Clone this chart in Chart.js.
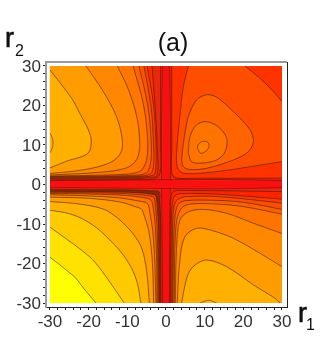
<!DOCTYPE html>
<html>
<head>
<meta charset="utf-8">
<style>
  html, body { margin: 0; padding: 0; background: #fff; }
  #wrap { position: relative; width: 332px; height: 338px; }
</style>
<script src="https://cdn.jsdelivr.net/npm/chart.js@4"></script>
</head>
<body>
<div id="wrap"><canvas id="chart" width="332" height="338"></canvas></div>
<script>
const tickValues = [-30, -28, -26, -24, -22, -20, -18, -16, -14, -12, -10, -8, -6, -4, -2, 0, 2, 4, 6, 8, 10, 12, 14, 16, 18, 20, 22, 24, 26, 28, 30];

// level contours, [r1, r2], yellow side first in each quadrant
const lowerLeft = [
  [[-30,-18.4],[-27,-20.7],[-25,-22.3],[-23.5,-23.5],[-22.3,-25],[-20.7,-27],[-18.1,-30]],
  [[-30,-10.8],[-26,-13.6],[-22,-16.5],[-19,-19],[-16.5,-22],[-13.6,-26],[-10.8,-30]],
  [[-30,-6.5],[-25,-7.4],[-21,-9],[-17,-11.7],[-14.3,-14.3],[-11.7,-17],[-9,-21],[-7.4,-25],[-6.5,-30]],
  [[-30,-4.3],[-22,-5],[-16,-6.3],[-12.5,-8.5],[-10.4,-10.4],[-8.5,-12.5],[-6.3,-16],[-5,-22],[-4.3,-30]],
  [[-30,-3.2],[-20,-3.5],[-12,-4.4],[-8,-5.6],[-6.3,-6.3],[-5.6,-8],[-4.4,-12],[-3.5,-20],[-3.2,-30]],
  [[-30,-2.6],[-20,-2.9],[-12,-3.4],[-7,-4.2],[-4.8,-4.8],[-4.2,-7],[-3.4,-12],[-2.9,-20],[-2.6,-30]],
  [[-30,-2.3],[-20,-2.4],[-10,-2.8],[-6,-3.3],[-3.9,-3.9],[-3.3,-6],[-2.8,-10],[-2.4,-20],[-2.3,-30]],
  [[-30,-2.05],[-20,-2.1],[-10,-2.35],[-5,-2.8],[-3.2,-3.2],[-2.8,-5],[-2.35,-10],[-2.1,-20],[-2.05,-30]],
  [[-30,-1.8],[-10,-1.95],[-5,-2.3],[-2.7,-2.7],[-2.3,-5],[-1.95,-10],[-1.8,-30]],
  [[-30,-1.3],[-10,-1.35],[-4,-1.6],[-1.8,-1.8],[-1.6,-4],[-1.35,-10],[-1.3,-30]]
];
const lowerLeftColors = ['#ffff00', '#ffe200', '#ffca00', '#ffb200', '#ff9c00', '#ff8600', '#ff7000', '#ff5800', '#ff4000', '#8e2608'];

const upperLeft = [
  [[-30,29],[-24.4,21.8],[-22.3,18],[-19.5,12.2],[-20.1,8],[-25.7,5.9],[-30,4.2]],
  [[-20.7,30],[-16.2,23.5],[-12.8,17.2],[-11.3,11.3],[-11.7,8],[-14.5,5.5],[-21.4,3.7],[-30,2.8]],
  [[-12.6,30],[-9.7,24],[-7.4,16.4],[-6.8,9.7],[-7.6,6.3],[-10.2,4.2],[-17,3.1],[-30,2.4]],
  [[-8.5,30],[-5.9,20.6],[-4.8,12.2],[-5,6.3],[-6.8,3.3],[-12.8,2.5],[-30,2.15]],
  [[-7,30],[-4.7,20],[-3.9,12],[-3.9,6],[-5,3],[-9,2.3],[-30,2]],
  [[-5.7,30],[-3.9,20],[-3.2,10],[-3.2,5],[-4,2.7],[-8,2.1],[-30,1.85]],
  [[-4.9,30],[-3.2,20],[-2.6,10],[-2.6,4.5],[-3.2,2.4],[-8,1.9],[-30,1.6]],
  [[-3.6,30],[-2.7,18],[-2.2,8],[-2.1,3.5],[-2.6,2],[-8,1.6],[-30,1.35]],
  [[-1.4,30],[-1.4,10],[-1.5,3],[-3,1.4],[-8,1.2],[-30,1.1]]
];
const upperLeftColors = ['#ffb000', '#ff9c00', '#ff8800', '#ff7600', '#ff6400', '#ff5200', '#ff4000', '#ff2c00', '#e8280c'];
const upperLeftPeak = [[-30,13],[-29.5,12],[-29.2,10.5],[-29.5,9],[-30,8]];
const upperLeftDark = [[-30,1.9],[-12,2],[-6,2],[-6,1.4],[-12,1.2],[-30,1.15]];

const lowerRight = [
  [[4.05,-30],[4.6,-27],[5.8,-22.5],[7.5,-20.4],[10.5,-19.1],[15.7,-20.8],[22.6,-25.4],[28.2,-28.8],[29.5,-30]],
  [[2.9,-30],[3.6,-19.1],[4.9,-13.2],[7.9,-11.1],[11.4,-11.5],[17.4,-13.6],[24.3,-17.4],[30,-20.8]],
  [[2.4,-30],[2.75,-15.8],[3.6,-9],[5.8,-6.9],[9.7,-6.3],[15.7,-7.3],[22.6,-9.8],[30,-12.4]],
  [[2.1,-30],[2.3,-16],[2.8,-9],[4,-6],[6,-5],[12,-4.9],[20,-5.6],[30,-7.5]],
  [[1.8,-30],[2,-14],[2.4,-7.5],[3.2,-5],[5,-4.1],[12,-4],[20,-4.5],[30,-6.3]],
  [[1.6,-30],[1.7,-12],[2,-6],[2.8,-4],[5,-3.1],[14,-3.1],[30,-4.7]],
  [[1.3,-30],[1.4,-10],[1.7,-4.5],[2.3,-2.9],[4,-2.3],[14,-2.5],[30,-3.7]],
  [[1.1,-30],[1.1,-8],[1.3,-3],[2,-1.7],[5,-1.5],[30,-1.8]]
];
const lowerRightColors = ['#ffb000', '#ff9c00', '#ff8800', '#ff7400', '#ff6000', '#ff4c00', '#ff3800', '#ff2400'];
const lowerRightPeak = [[8.8,-30],[11,-29.3],[13.1,-30]];

const upperRightEdge = [[1.5,30],[1.5,10],[1.5,3],[2.5,1.7],[8,1.6],[30,1.6]];
const upperRightFan = [[5.8,30],[4.5,24.8],[3.5,16.3],[2.75,7.9],[2.9,4.5],[4.05,3],[7.9,2.8],[15.7,3.6],[24.3,4.9],[30,5.8]];
const upperRightCorner = [[30,21],[27.8,23.5],[24.3,26.9],[20.4,30]];
const upperRightRings = [
  [[4.05,6.2],[4.5,10.4],[5.8,17.2],[7.9,21.4],[10.5,22.7],[13.1,22.1],[17.4,18.5],[21.7,13.9],[22.6,10.9],[21.3,8.3],[17.4,6.2],[10.5,4.1],[6.2,3.8],[4.5,4.5],[4.05,6.2]],
  [[5.8,7.9],[6.2,12.1],[7.9,15.1],[10.5,15.9],[13.5,14.6],[15.7,11.7],[15.3,8.3],[13.1,6.2],[8.8,5.4],[6.6,5.8],[5.8,7.9]],
  [[8.1,9.2],[8.4,10.2],[9.5,10.9],[10.8,10.7],[11.1,9.6],[10.5,8.6],[9,7.9],[8.1,9.2]]
];
const upperRightColors = ['#ff6400', '#ff7400', '#ff8000'];

const crossBands = [
  [[-0.9,-30],[-0.9,30],[0.9,30],[0.9,-30]],
  [[-30,-0.8],[30,-0.8],[30,1],[-30,1]]
];

const LINE = 'rgba(50,30,0,0.6)';
const CLIP = { left: -4, top: -4, right: -5, bottom: -4 };
const toPts = arr => arr.map(p => ({ x: p[0], y: p[1] }));
const datasets = [];

function region(points, color) {
  datasets.push({
    data: toPts(points), showLine: true, fill: 'shape', backgroundColor: color,
    borderWidth: 0, pointRadius: 0, tension: 0, order: -datasets.length
  });
}
function contour(points, color) {
  datasets.push({
    data: toPts(points), showLine: true, fill: false, borderColor: color || LINE,
    borderWidth: 0.9, pointRadius: 0, tension: 0.35, clip: CLIP, order: -datasets.length
  });
}

// base square
region([[-30,-30],[-30,30],[30,30],[30,-30]], '#ec2412');

// painted from the cross outward so the inner bands sit on top
for (let i = lowerLeft.length - 1; i >= 0; i--) {
  region(lowerLeft[i].concat([[-30,-30]]), lowerLeftColors[i]);
  contour(lowerLeft[i]);
}
for (let i = upperLeft.length - 1; i >= 0; i--) {
  region(upperLeft[i].concat([[-30,30]]), upperLeftColors[i]);
  contour(upperLeft[i]);
}
region(upperLeftDark, '#8e2608');
region(upperLeftPeak, '#ffb800');
contour(upperLeftPeak);
for (let i = lowerRight.length - 1; i >= 0; i--) {
  region(lowerRight[i].concat([[30,-30]]), lowerRightColors[i]);
  contour(lowerRight[i]);
}
region(lowerRightPeak, '#ffb800');
contour(lowerRightPeak);

region(upperRightEdge.concat([[30,30]]), '#ff3200');
contour(upperRightEdge);
region(upperRightFan.concat(upperRightCorner), '#ff4e00');
contour(upperRightFan);
contour(upperRightCorner);
upperRightRings.forEach((ring, i) => {
  region(ring, upperRightColors[i]);
  contour(ring);
});

crossBands.forEach(band => {
  region(band, '#f81010');
  contour(band, 'rgba(130,10,10,0.7)');
});

const axisText = {
  id: 'axisText',
  afterDraw(chart) {
    const { ctx, chartArea: a } = chart;
    ctx.save();
    ctx.strokeStyle = '#999';
    ctx.lineWidth = 2;
    ctx.beginPath();
    ctx.moveTo(a.left - 1, a.top);
    ctx.lineTo(a.right, a.top);
    ctx.stroke();
    ctx.strokeStyle = '#222';
    ctx.lineWidth = 1;
    ctx.beginPath();
    ctx.moveTo(a.right + 0.5, a.top);
    ctx.lineTo(a.right + 0.5, a.bottom);
    ctx.stroke();

    ctx.fillStyle = '#111';
    ctx.textBaseline = 'alphabetic';
    ctx.textAlign = 'center';
    ctx.font = '25px "Liberation Sans"';
    ctx.fillText('(a)', 173, 51);
    ctx.textAlign = 'left';
    ctx.font = '27px "Liberation Sans"';
    ctx.strokeStyle = '#111';
    ctx.lineWidth = 0.6;
    ctx.fillText('r', 5, 47);
    ctx.strokeText('r', 5, 47);
    ctx.fillText('r', 298, 322);
    ctx.strokeText('r', 298, 322);
    ctx.font = '16px "Liberation Sans"';
    ctx.fillText('2', 15, 56);
    ctx.fillText('1', 306, 330);
    ctx.restore();
  }
};

new Chart(document.getElementById('chart'), {
  type: 'scatter',
  data: { datasets: datasets },
  options: {
    responsive: false,
    animation: false,
    layout: { padding: { left: 0, top: 62, right: 45, bottom: 0 } },
    plugins: { legend: { display: false }, tooltip: { enabled: false } },
    scales: {
      x: {
        type: 'linear', min: -31.03, max: 31.3,
        afterBuildTicks: s => { s.ticks = tickValues.map(v => ({ value: v })); },
        afterFit: s => { s.height = 31; },
        grid: { drawOnChartArea: false, tickLength: 3, tickColor: '#222' },
        border: { color: '#222', width: 1 },
        ticks: {
          autoSkip: false, maxRotation: 0, padding: 2, color: '#333',
          font: { family: 'Liberation Sans', size: 17 },
          callback: v => (v % 10 === 0 ? String(v) : '')
        }
      },
      y: {
        type: 'linear', min: -31, max: 31,
        afterBuildTicks: s => { s.ticks = tickValues.map(v => ({ value: v })); },
        afterFit: s => { s.width = 46; },
        grid: { drawOnChartArea: false, tickLength: 3, tickColor: '#222' },
        border: { color: '#999', width: 2 },
        ticks: {
          autoSkip: false, padding: 2, color: '#333', labelOffset: 1,
          font: { family: 'Liberation Sans', size: 17 },
          callback: v => (v % 10 === 0 ? String(v) : '')
        }
      }
    }
  },
  plugins: [axisText]
});
</script>
</body>
</html>
